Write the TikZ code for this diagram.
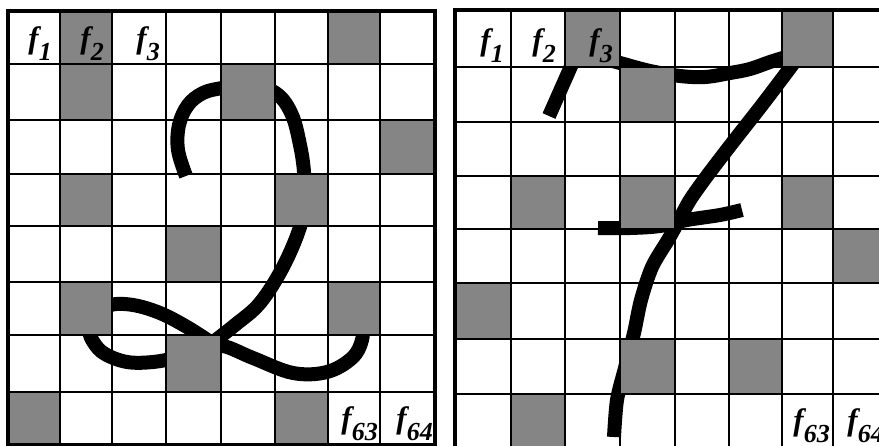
\documentclass[tikz,border=0pt]{standalone}
\usepackage{fontspec}
\setmainfont{Liberation Serif}
\tikzset{
  cellshade/.style={fill=black!48},
  gridline/.style={line width=2.2pt},
  gridframe/.style={line width=3.5pt},
  pen/.style={line width=14pt, line join=round},
  lab/.style={inner sep=0pt, anchor=base east, font=\fontsize{31}{31}\selectfont\bfseries\itshape},
}
\newcommand{\flab}[1]{f\raisebox{-12pt}{\fontsize{26}{26}\selectfont #1}}
\begin{document}
\begin{tikzpicture}[x=1pt,y=-1pt]
\useasboundingbox (0,0) rectangle (879,446);
\fill[white] (0,0) rectangle (879,446);
% grid coordinates
\foreach \v [count=\i from 0] in {8,60,112,166,221,275,328,380,435} {\coordinate (Lx\i) at (\v,0);}
\foreach \v [count=\i from 0] in {11,64,120,174,226,282,335,392,445} {\coordinate (Ly\i) at (0,\v);}
\foreach \v [count=\i from 0] in {455,511,565,620,675,729,782,833,887} {\coordinate (Rx\i) at (\v,0);}
\foreach \v [count=\i from 0] in {10,67,122,176,229,283,339,394,449} {\coordinate (Ry\i) at (0,\v);}

% ---- left: handwritten 2
\draw[pen] plot[smooth, tension=0.6] coordinates {(186,176) (178,150) (179,125) (188,105) (203,93) (222,88) (250,84) (277,94) (292,115) (300,145) (304,172) (304,200) (300,227) (283,267) (260,303) (235,325) (212,343)};
\draw[pen] plot[smooth, tension=0.6] coordinates {(212,343) (187,327) (160,313) (133,305) (110,305) (93,315) (89,330) (94,343) (105,354) (127,362) (153,362) (180,357) (205,350) (223,346) (253,358) (293,373) (327,372) (352,358) (362,340) (363,318)};

% ---- right: handwritten 7
\draw[pen] (549,116) -- (576,55);
\draw[pen] plot[smooth, tension=0.6] coordinates {(598,57) (620,63) (650,71) (680,76) (705,77) (730,73) (750,69) (770,62) (786,57) (805,51)};
\draw[pen] plot[smooth, tension=0.5] coordinates {(803,50) (790,68) (762,105) (733,142) (707,176) (690,200) (678,222) (668,240) (652,267) (641,300) (634,333) (625,368) (617,400) (614,437)};
\draw[pen] plot[smooth, tension=0.6] coordinates {(598,228) (630,228) (660,226) (687,220) (720,215) (742,210)};

% ---- shaded cells
\foreach \c/\r in {1/0,6/0,1/1,4/1,7/2,1/3,5/3,3/4,1/5,6/5,3/6,0/7,5/7} {
  \pgfmathtruncatemacro{\cn}{\c+1}\pgfmathtruncatemacro{\rn}{\r+1}
  \fill[cellshade] (Lx\c |- Ly\r) rectangle (Lx\cn |- Ly\rn);
}
\foreach \c/\r in {2/0,6/0,3/1,1/3,3/3,6/3,7/4,0/5,3/6,5/6,1/7} {
  \pgfmathtruncatemacro{\cn}{\c+1}\pgfmathtruncatemacro{\rn}{\r+1}
  \fill[cellshade] (Rx\c |- Ry\r) rectangle (Rx\cn |- Ry\rn);
}

% ---- grid lines
\foreach \i in {1,...,7} {
  \draw[gridline] (Lx\i |- Ly0) -- (Lx\i |- Ly8);
  \draw[gridline] (Lx0 |- Ly\i) -- (Lx8 |- Ly\i);
  \draw[gridline] (Rx\i |- Ry0) -- (Rx\i |- Ry8);
  \draw[gridline] (Rx0 |- Ry\i) -- (Rx8 |- Ry\i);
}
\draw[gridframe] (Lx0 |- Ly0) rectangle (Lx8 |- Ly8);
\draw[gridframe] (Rx0 |- Ry0) rectangle (Rx8 |- Ry8);

% ---- labels
\node[lab] (lf1) at (52,49) {\flab{1}};
\node[lab] (lf2) at (104,49) {\flab{2}};
\node[lab] (lf3) at (160,49) {\flab{3}};
\node[lab] (lf63) at (378,429) {\flab{63}};
\node[lab] (lf64) at (433,429) {\flab{64}};
\node[lab] (rf1) at (504,51) {\flab{1}};
\node[lab] (rf2) at (556,51) {\flab{2}};
\node[lab] (rf3) at (613,51) {\flab{3}};
\node[lab] (rf63) at (830,431) {\flab{63}};
\node[lab] (rf64) at (884,431) {\flab{64}};
\end{tikzpicture}
\end{document}
